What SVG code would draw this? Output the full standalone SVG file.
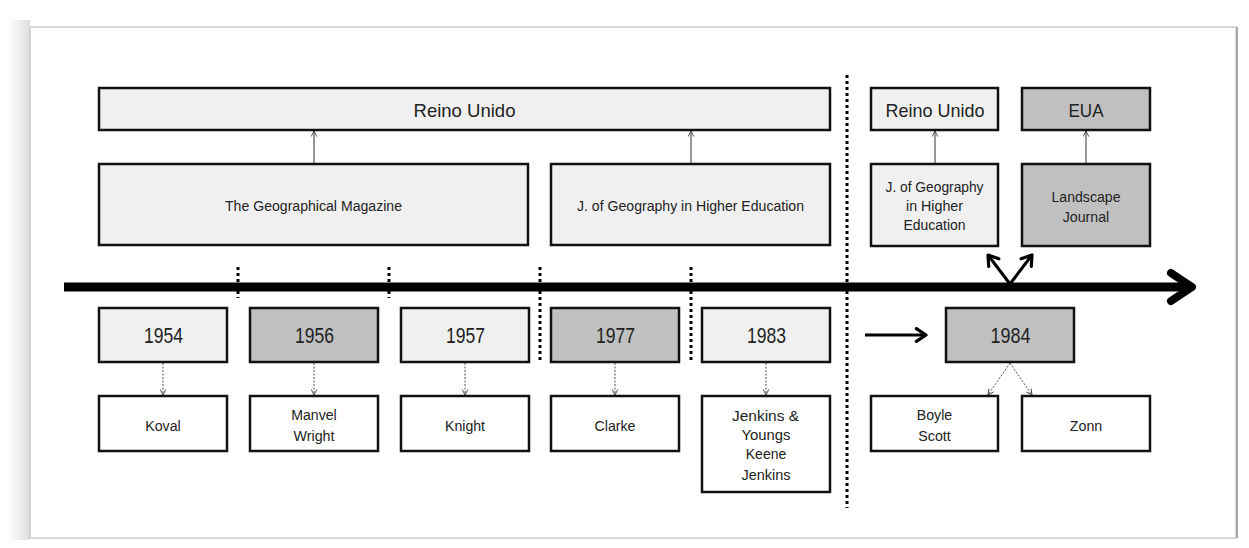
<svg xmlns="http://www.w3.org/2000/svg" width="1249" height="548" viewBox="0 0 1249 548">
<defs>
<marker id="open" viewBox="0 0 10 10" refX="9" refY="5" markerWidth="7" markerHeight="7" orient="auto" markerUnits="userSpaceOnUse">
<path d="M1,1 L9,5 L1,9" fill="none" stroke="#333" stroke-width="1.2"/>
</marker>
<marker id="bold" viewBox="0 0 10 10" refX="8" refY="5" markerWidth="16" markerHeight="16" orient="auto" markerUnits="userSpaceOnUse">
<path d="M2,1 L8,5 L2,9" fill="none" stroke="#000" stroke-width="2" stroke-linecap="round" stroke-linejoin="round"/>
</marker>
<linearGradient id="sh" x1="0" x2="1" y1="0" y2="0">
<stop offset="0" stop-color="#fff"/><stop offset="1" stop-color="#bbb"/>
</linearGradient>
</defs>
<style>
.lt{fill:#f0f0f0;stroke:#111;stroke-width:2.5}
.dk{fill:#c0c0c0;stroke:#111;stroke-width:2.5}
.wh{fill:#fff;stroke:#111;stroke-width:2.5}
text{font-family:"Liberation Sans",Arial,sans-serif;fill:#222;text-anchor:middle}
.big{font-size:19px}
.yr{font-size:22px}
.sm{font-size:15.5px}
.up{stroke:#333;stroke-width:1;fill:none;marker-end:url(#open)}
.dn{stroke:#555;stroke-width:1;stroke-dasharray:2,1.5;fill:none;marker-end:url(#open)}
.dot{stroke:#000;stroke-width:3;stroke-dasharray:3,3;fill:none}
</style>
<rect width="1249" height="548" fill="#fff"/>
<rect x="8" y="20" width="22" height="520" fill="url(#sh)" opacity="0.5"/>
<rect x="30" y="27" width="1206" height="511" fill="#fff" stroke="#ccc" stroke-width="1.5"/>
<line x1="1237" y1="27" x2="1237" y2="538" stroke="#aaa" stroke-width="2"/>

<g id="connectors">
<line x1="64" y1="287" x2="1186" y2="287" stroke="#000" stroke-width="9"/>
<path d="M1171,273 L1192,287 L1171,301" fill="none" stroke="#000" stroke-width="8" stroke-linecap="round" stroke-linejoin="round"/>
<line class="dot" x1="238" y1="267" x2="238" y2="298"/>
<line class="dot" x1="389" y1="267" x2="389" y2="298"/>
<line class="dot" x1="540" y1="267" x2="540" y2="360"/>
<line class="dot" x1="691" y1="267" x2="691" y2="360"/>
<line class="dot" x1="847" y1="75" x2="847" y2="508"/>
<line class="up" x1="314" y1="164" x2="314" y2="131"/>
<line class="up" x1="691" y1="164" x2="691" y2="131"/>
<line class="up" x1="935" y1="164" x2="935" y2="131"/>
<line class="up" x1="1086" y1="164" x2="1086" y2="131"/>
<line x1="1010" y1="284" x2="988" y2="255" stroke="#000" stroke-width="3" marker-end="url(#bold)"/>
<line x1="1010" y1="284" x2="1032" y2="255" stroke="#000" stroke-width="3" marker-end="url(#bold)"/>
<line x1="865" y1="335" x2="926" y2="335" stroke="#000" stroke-width="3" marker-end="url(#bold)"/>
<line class="dn" x1="163" y1="363" x2="163" y2="395"/>
<line class="dn" x1="314" y1="363" x2="314" y2="395"/>
<line class="dn" x1="465" y1="363" x2="465" y2="395"/>
<line class="dn" x1="615" y1="363" x2="615" y2="395"/>
<line class="dn" x1="766" y1="363" x2="766" y2="395"/>
<line class="dn" x1="1010" y1="363" x2="988" y2="395"/>
<line class="dn" x1="1010" y1="363" x2="1032" y2="395"/>
</g>

<g id="reino-unido-main"><rect class="lt" x="99" y="88" width="731" height="42"/><text class="big" x="464.5" y="117" textLength="102" lengthAdjust="spacingAndGlyphs">Reino Unido</text></g>
<g id="geo-magazine"><rect class="lt" x="99" y="164" width="429" height="81"/><text class="sm" x="313.5" y="210.5" textLength="177" lengthAdjust="spacingAndGlyphs">The Geographical Magazine</text></g>
<g id="jgeo-he"><rect class="lt" x="551" y="164" width="279" height="81"/><text class="sm" x="690.5" y="211" textLength="227" lengthAdjust="spacingAndGlyphs">J. of Geography in Higher Education</text></g>
<g id="reino-unido-r"><rect class="lt" x="871" y="88" width="127" height="42"/><text class="big" x="935" y="117" textLength="99" lengthAdjust="spacingAndGlyphs">Reino Unido</text></g>
<g id="eua"><rect class="dk" x="1022" y="88" width="128" height="42"/><text class="big" x="1086" y="117" textLength="35" lengthAdjust="spacingAndGlyphs">EUA</text></g>
<g id="jgeo-he-r"><rect class="lt" x="871" y="164" width="127" height="82"/><text class="sm" x="934.5" y="191.5" textLength="98" lengthAdjust="spacingAndGlyphs">J. of Geography</text><text class="sm" x="934.5" y="210.5" textLength="57" lengthAdjust="spacingAndGlyphs">in Higher</text><text class="sm" x="934.5" y="230" textLength="62" lengthAdjust="spacingAndGlyphs">Education</text></g>
<g id="landscape"><rect class="dk" x="1022" y="164" width="128" height="82"/><text class="sm" x="1086" y="201.5" textLength="69" lengthAdjust="spacingAndGlyphs">Landscape</text><text class="sm" x="1086" y="221.5" textLength="46.5" lengthAdjust="spacingAndGlyphs">Journal</text></g>

<g id="y1954"><rect class="lt" x="99" y="308" width="128" height="54"/><text class="yr" x="163.5" y="343" textLength="39" lengthAdjust="spacingAndGlyphs">1954</text></g>
<g id="y1956"><rect class="dk" x="250" y="308" width="128" height="54"/><text class="yr" x="314.5" y="343" textLength="39" lengthAdjust="spacingAndGlyphs">1956</text></g>
<g id="y1957"><rect class="lt" x="401" y="308" width="128" height="54"/><text class="yr" x="465.5" y="343" textLength="39" lengthAdjust="spacingAndGlyphs">1957</text></g>
<g id="y1977"><rect class="dk" x="551" y="308" width="128" height="54"/><text class="yr" x="615.5" y="343" textLength="39" lengthAdjust="spacingAndGlyphs">1977</text></g>
<g id="y1983"><rect class="lt" x="702" y="308" width="128" height="54"/><text class="yr" x="766.5" y="343" textLength="39" lengthAdjust="spacingAndGlyphs">1983</text></g>
<g id="y1984"><rect class="dk" x="946" y="308" width="128" height="54"/><text class="yr" x="1010.5" y="343" textLength="40" lengthAdjust="spacingAndGlyphs">1984</text></g>

<g id="koval"><rect class="wh" x="99" y="396" width="128" height="55"/><text class="sm" x="163" y="430.5" textLength="35.5" lengthAdjust="spacingAndGlyphs">Koval</text></g>
<g id="manvel"><rect class="wh" x="250" y="396" width="128" height="55"/><text class="sm" x="314" y="420" textLength="45.5" lengthAdjust="spacingAndGlyphs">Manvel</text><text class="sm" x="314" y="440.5" textLength="41" lengthAdjust="spacingAndGlyphs">Wright</text></g>
<g id="knight"><rect class="wh" x="401" y="396" width="128" height="55"/><text class="sm" x="465" y="430.5" textLength="40" lengthAdjust="spacingAndGlyphs">Knight</text></g>
<g id="clarke"><rect class="wh" x="551" y="396" width="128" height="55"/><text class="sm" x="615" y="430.5" textLength="41" lengthAdjust="spacingAndGlyphs">Clarke</text></g>
<g id="jenkins"><rect class="wh" x="702" y="396" width="128" height="96"/><text class="sm" x="765.5" y="421" textLength="67" lengthAdjust="spacingAndGlyphs">Jenkins &amp;</text><text class="sm" x="766" y="440" textLength="49" lengthAdjust="spacingAndGlyphs">Youngs</text><text class="sm" x="766" y="459" textLength="40.5" lengthAdjust="spacingAndGlyphs">Keene</text><text class="sm" x="766" y="480" textLength="49" lengthAdjust="spacingAndGlyphs">Jenkins</text></g>
<g id="boyle"><rect class="wh" x="871" y="396" width="127" height="55"/><text class="sm" x="934.5" y="420" textLength="35.5" lengthAdjust="spacingAndGlyphs">Boyle</text><text class="sm" x="934.5" y="441" textLength="32.5" lengthAdjust="spacingAndGlyphs">Scott</text></g>
<g id="zonn"><rect class="wh" x="1022" y="396" width="128" height="55"/><text class="sm" x="1086" y="430.5" textLength="32.5" lengthAdjust="spacingAndGlyphs">Zonn</text></g>
</svg>
